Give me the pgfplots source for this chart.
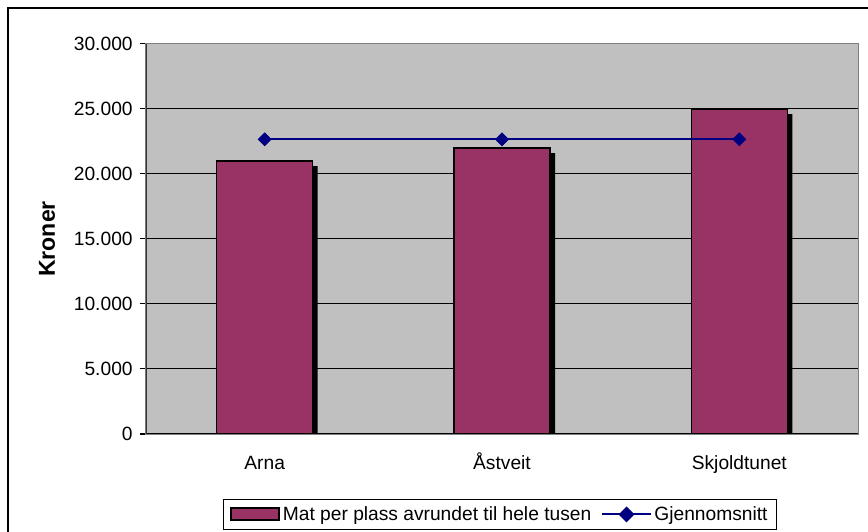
\documentclass[border=0pt]{standalone}
\usepackage{fontspec}
\setmainfont{Liberation Sans}
\usepackage{pgfplots}
\usepackage{pgfplotstable}
\pgfplotsset{compat=1.18}

\definecolor{plum}{HTML}{993366}
\definecolor{navyline}{HTML}{000080}
\definecolor{plotbg}{HTML}{C0C0C0}
\definecolor{frame}{HTML}{808080}

% A with ring above (U+00C5)
\newcommand{\Aring}{\symbol{197}}

% Food cost per place, rounded to whole thousands
\pgfplotstableread{
x v
0 21000
1 22000
2 25000
}\kostnad

% Average of the three homes
\pgfplotstableread{
x v
0 22667
1 22667
2 22667
}\snitt

\begin{document}
\begin{tikzpicture}[font=\fontsize{14.4}{17}\selectfont]
\path[use as bounding box] (0,0) rectangle (651pt,399pt);
\draw[line width=1.1pt] (6pt,-2pt) -- (6pt,393pt) -- (653pt,393pt);
\begin{axis}[
  at={(109.5pt,73.5pt)}, anchor=south west,
  scale only axis, width=534pt, height=292.5pt,
  xmin=-0.5, xmax=2.5, ymin=0, ymax=30000,
  axis background/.style={fill=plotbg},
  axis line style={draw=frame, line width=0.75pt},
  ymajorgrids, grid style={black, line width=0.75pt},
  scaled y ticks=false,
  ytick={0,5000,10000,15000,20000,25000,30000},
  yticklabels={0, 5.000, 10.000, 15.000, 20.000, 25.000, 30.000},
  yticklabel style={xshift=-2pt},
  ytick pos=left, xtick pos=bottom,
  tick align=outside,
  major tick length=4.5pt,
  ytick style={black, line width=0.75pt},
  xtick={0,1,2},
  xticklabels={Arna, {\Aring stveit}, Skjoldtunet},
  xtick style={draw=none},
  xticklabel style={text height=10.5pt, yshift=-8pt},
  ylabel={\textbf{Kroner}},
  ylabel style={at={(axis description cs:-0.139,0.5)}, anchor=center,
    font=\fontsize{17.3}{20}\selectfont},
  legend style={at={(0.497,-0.1667)}, anchor=north, legend columns=2,
    draw=black, line width=0.75pt, fill=white, inner xsep=5pt, inner ysep=3.2pt,
    nodes={inner xsep=1.8pt, inner ysep=2pt, text depth=0.15em},
    /tikz/every even column/.append style={column sep=5.5pt},
    font=\fontsize{14.4}{17}\selectfont},
  clip=true,
]
% drop shadow behind each bar
\addplot[ybar, bar width=72pt, bar shift=3.75pt, fill=black, draw=none, forget plot]
  table[x=x, y expr=\thisrow{v}-385] {\kostnad};
\addplot[ybar, bar width=72pt, bar shift=0pt, fill=plum, draw=black, line width=0.9pt,
  legend image code/.code={\draw[fill=plum, draw=black, line width=1.5pt] (0pt,-4.5pt) rectangle (36.5pt,4.5pt);}]
  table[x=x, y=v] {\kostnad};
\addlegendentry{Mat per plass avrundet til hele tusen}
\addplot[navyline, line width=1.5pt, mark=square*, mark size=3.45pt,
  mark options={rotate=45, fill=navyline, draw=navyline, line width=0.5pt},
  legend image code/.code={\draw[navyline, line width=1.5pt] (0pt,0pt) -- (36.75pt,0pt);
    \fill[navyline] (18.4pt,0pt) +(-4.9pt,0pt) -- +(0pt,4.9pt) -- +(4.9pt,0pt) -- +(0pt,-4.9pt) -- cycle;}]
  table[x=x, y=v] {\snitt};
\addlegendentry{Gjennomsnitt}
% axis lines and category boundary ticks
\draw[black, line width=0.75pt] (rel axis cs:0,0) -- (rel axis cs:1,0);
\draw[black!80, line width=1.5pt] (rel axis cs:0,0) -- (rel axis cs:0,1);
\pgfplotsinvokeforeach{-0.5,0.5,1.5,2.5}{
  \draw[black, line width=0.75pt] (axis cs:#1,0) -- ++(0pt,-4.5pt);
}
\end{axis}
\end{tikzpicture}
\end{document}
